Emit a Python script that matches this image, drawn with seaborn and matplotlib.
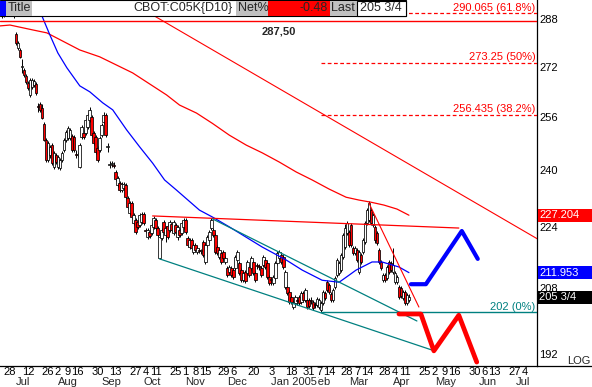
import numpy as np
import pandas as pd
import matplotlib
matplotlib.use('Agg')
import matplotlib.pyplot as plt
import matplotlib.transforms as mtransforms
from matplotlib.patches import Rectangle
from matplotlib.ticker import NullLocator, NullFormatter
import seaborn as sns

# ---------------- data ----------------
holidays = ['2004-07-05', '2004-09-06', '2004-11-25', '2004-12-24',
            '2005-01-17', '2005-02-21', '2005-03-25']
hist_dates = pd.bdate_range('2004-06-21', '2005-04-13')
hist_dates = hist_dates[~hist_dates.isin(pd.to_datetime(holidays))]
future_dates = pd.bdate_range('2005-04-14', '2005-07-15')
all_dates = hist_dates.append(future_dates)

opens = [291, 292, 290, 291, 291, 292, 291, 290, 282.9, 278.2,
         277.5, 271.9, 270.9, 268.9, 266.6, 262.8, 265.4, 266.0, 266.3, 259.3,
         260.0, 258.7, 253.7, 248.8, 242.9, 244.4, 247.3, 240.9, 244.4, 240.9,
         240.6, 242.9, 245.9, 248.8, 249.4, 249.4, 250.0, 249.7, 244.7, 244.4,
         240.9, 249.7, 251.0, 251.0, 252.8, 254.9, 255.9, 251.0, 249.7, 246.5,
         245.9, 250.4, 254.3, 256.5, 246.8, 241.4, 241.7, 241.4, 239.4, 235.6,
         236.2, 234.2, 234.8, 235.6, 232.0, 227.8, 230.6, 225.1, 225.9, 225.4,
         224.5, 225.4, 227.5, 223.2, 221.3, 222.7, 222.4, 224.0, 225.9, 223.7,
         215.7, 221.1, 225.4, 221.9, 224.3, 223.2, 224.8, 222.4, 224.5, 221.3,
         223.2, 222.4, 224.0, 225.9, 221.1, 218.6, 220.5, 217.3, 219.2, 217.3,
         217.8, 217.5, 220.0, 214.7, 219.2, 220.5, 223.7, 223.2, 221.9, 218.6,
         216.0, 217.0, 217.3, 214.7, 213.1, 212.1, 213.1, 212.6, 213.1, 215.2,
         214.4, 212.6, 210.0, 212.1, 211.8, 213.4, 213.1, 214.7, 211.8, 213.9,
         213.6, 213.1, 213.9, 215.2, 214.4, 210.8, 210.3, 209.2, 210.5, 214.4,
         215.7, 216.5, 216.0, 208.2, 208.2, 207.0, 205.7, 203.3, 204.3, 205.0,
         205.7, 204.5, 206.7, 205.0, 205.0, 205.0, 205.0, 204.5, 204.0, 203.8,
         203.3, 202.6, 204.3, 206.7, 209.5, 208.7, 206.5, 205.0, 208.2, 211.3,
         211.8, 212.6, 216.0, 218.6, 222.4, 222.7, 224.5, 218.4, 217.0, 217.8,
         212.1, 216.5, 217.3, 220.0, 225.1, 225.9, 228.6, 224.5, 224.0, 222.4,
         217.8, 214.7, 210.0, 211.3, 210.5, 214.7, 214.4, 212.1, 209.5, 209.5,
         208.2, 208.0, 205.5, 207.0, 204.3, 205.0]
highs = [293, 293, 292, 292, 294, 294, 292, 291, 283.6, 280.6,
         278.2, 274.5, 271.6, 269.6, 267.3, 268.3, 268.3, 267.9, 267.0, 260.3,
         260.6, 260.0, 254.3, 249.4, 248.5, 247.3, 247.9, 245.6, 245.0, 244.4,
         243.5, 245.6, 249.4, 251.9, 253.1, 252.5, 250.7, 250.4, 245.9, 245.3,
         247.9, 253.4, 251.9, 255.5, 257.1, 259.0, 256.5, 251.6, 250.4, 247.1,
         250.0, 254.0, 257.5, 257.1, 247.9, 242.6, 242.6, 242.3, 240.0, 238.3,
         236.8, 236.5, 236.5, 236.2, 232.5, 231.1, 231.1, 227.8, 226.4, 225.9,
         227.8, 228.1, 228.1, 223.7, 223.7, 223.2, 225.1, 227.0, 226.4, 224.3,
         222.7, 223.7, 225.9, 224.3, 224.8, 225.9, 225.4, 225.9, 225.1, 224.5,
         223.7, 225.6, 226.4, 226.4, 221.6, 221.1, 221.1, 219.7, 219.7, 218.9,
         218.4, 218.1, 220.5, 219.7, 221.9, 223.2, 226.4, 223.7, 222.4, 219.2,
         218.4, 217.5, 217.8, 216.2, 213.6, 213.9, 213.6, 213.1, 216.5, 217.8,
         214.9, 213.1, 212.3, 212.6, 215.2, 213.9, 216.2, 215.2, 212.3, 214.4,
         214.2, 213.6, 216.5, 215.7, 214.9, 211.3, 210.8, 211.3, 214.9, 217.5,
         217.8, 217.0, 216.5, 212.6, 208.7, 207.5, 206.2, 205.0, 206.2, 205.7,
         206.2, 207.2, 207.2, 208.0, 205.5, 205.5, 205.7, 205.0, 204.5, 205.7,
         205.5, 204.8, 207.5, 207.2, 210.0, 209.2, 207.0, 208.0, 211.0, 215.7,
         214.9, 217.0, 222.4, 224.8, 225.6, 223.2, 225.1, 218.9, 218.9, 218.4,
         217.8, 217.0, 221.1, 225.6, 229.2, 231.1, 229.2, 227.8, 224.5, 222.9,
         218.4, 215.2, 211.8, 211.8, 213.9, 215.2, 214.9, 218.4, 212.3, 211.3,
         208.7, 208.5, 207.5, 207.5, 206.7, 206.5]
lows = [290, 288.6, 288.8, 289, 290, 290, 289.8, 288.4, 279.2, 277.5,
        274.9, 269.9, 268.6, 266.3, 264.4, 262.2, 264.7, 265.4, 262.8, 257.5,
        257.5, 255.2, 248.5, 242.3, 242.3, 243.5, 241.4, 240.3, 241.7, 240.3,
        240.0, 242.3, 245.3, 248.2, 248.8, 248.8, 245.3, 245.3, 243.5, 243.8,
        240.6, 249.1, 249.1, 250.4, 252.2, 254.3, 249.7, 247.3, 244.7, 242.3,
        245.3, 249.7, 253.7, 249.7, 245.3, 240.6, 240.9, 240.6, 236.8, 235.1,
        233.6, 233.6, 234.2, 231.7, 228.9, 227.2, 226.2, 224.5, 222.1, 223.5,
        224.0, 224.8, 224.5, 222.4, 220.8, 221.1, 221.9, 223.5, 223.2, 221.3,
        215.5, 220.5, 222.1, 220.0, 220.8, 222.7, 222.7, 221.9, 222.1, 220.5,
        221.3, 221.9, 223.5, 222.1, 218.6, 218.1, 217.8, 216.8, 217.3, 216.8,
        217.0, 216.8, 216.0, 214.2, 218.6, 220.0, 223.2, 221.3, 216.8, 216.5,
        215.5, 214.2, 215.2, 214.2, 210.8, 211.6, 210.8, 210.3, 212.6, 214.7,
        211.3, 209.5, 209.5, 209.2, 211.3, 210.8, 212.6, 211.3, 209.5, 212.8,
        212.6, 210.8, 213.4, 212.8, 210.3, 208.7, 208.7, 208.7, 210.0, 213.9,
        215.2, 214.2, 212.8, 207.7, 206.2, 204.0, 204.0, 202.8, 203.8, 203.8,
        203.8, 204.0, 204.5, 204.5, 202.8, 203.1, 204.0, 202.6, 203.1, 203.3,
        202.8, 202.1, 203.8, 205.0, 207.0, 206.5, 204.5, 204.5, 207.7, 210.8,
        211.3, 212.1, 215.5, 218.1, 221.9, 218.6, 218.6, 216.5, 216.5, 214.7,
        211.6, 214.2, 216.8, 219.4, 224.5, 225.4, 224.5, 224.0, 219.7, 219.2,
        214.2, 212.6, 209.5, 209.5, 210.0, 211.6, 212.1, 211.6, 209.0, 209.0,
        205.2, 205.5, 205.0, 203.8, 203.8, 204.5]
closes = [292, 290, 291, 290.5, 292, 291, 290, 289.5, 279.9, 279.9,
          275.2, 272.2, 269.3, 267.0, 265.0, 267.6, 267.6, 267.3, 263.4, 259.0,
          258.1, 255.5, 248.8, 242.9, 247.9, 246.8, 242.0, 245.0, 242.3, 243.8,
          242.9, 245.0, 248.8, 251.3, 252.5, 251.9, 245.9, 245.9, 244.4, 244.7,
          247.3, 252.8, 249.7, 254.9, 256.5, 258.1, 250.4, 247.9, 245.3, 242.9,
          249.4, 253.4, 256.5, 250.4, 247.1, 241.7, 242.0, 241.2, 237.4, 237.7,
          234.2, 235.9, 235.9, 232.2, 229.4, 230.6, 226.7, 227.2, 222.7, 224.0,
          227.2, 227.5, 225.1, 222.9, 223.2, 221.6, 224.5, 226.4, 223.7, 221.9,
          221.3, 223.2, 222.7, 223.7, 221.3, 225.4, 223.2, 225.4, 222.7, 224.0,
          221.9, 225.1, 225.9, 222.7, 219.2, 220.5, 218.4, 219.2, 217.8, 218.4,
          217.5, 217.8, 216.5, 219.2, 221.3, 222.7, 225.9, 221.9, 217.3, 217.0,
          217.8, 214.7, 215.7, 215.7, 211.3, 213.4, 211.3, 210.8, 216.0, 217.3,
          211.8, 210.0, 211.8, 209.7, 214.7, 211.3, 215.7, 211.8, 210.0, 213.6,
          213.4, 211.3, 216.0, 213.4, 210.8, 209.2, 210.0, 210.8, 214.4, 217.0,
          217.3, 214.7, 213.4, 212.1, 206.7, 204.5, 204.5, 204.5, 205.7, 204.8,
          204.3, 206.7, 205.0, 207.5, 203.3, 203.6, 204.8, 203.1, 203.8, 205.2,
          205.0, 204.3, 207.0, 205.5, 207.5, 207.0, 205.0, 207.5, 210.5, 215.2,
          214.4, 216.5, 221.9, 223.7, 225.1, 219.2, 219.2, 217.0, 218.4, 215.2,
          217.3, 214.7, 220.5, 225.1, 228.6, 230.6, 225.1, 227.2, 220.5, 219.7,
          214.7, 213.1, 211.3, 210.0, 213.4, 212.1, 212.6, 213.9, 211.8, 210.8,
          205.7, 206.0, 207.0, 204.3, 206.2, 205.75]

# moving averages (bar index, price)
red_ma_x = [0, 5, 16.5, 23.5, 40, 50, 66.5, 83.5, 90, 98.5, 106.5, 115, 123.5,
            131.5, 140, 148.5, 156.5, 165, 173.5, 180, 186, 192.5, 199, 205]
red_ma_y = [285.7, 286.0, 284.3, 283.3, 277.5, 275.2, 269.9, 262.8, 259.6, 257.1,
            253.9, 250.3, 247.3, 245.0, 242.3, 239.4, 237.1, 234.5, 232.2, 231.4,
            230.8, 230.0, 228.9, 227.2]
blue_ma_x = [19, 21, 25, 29, 33.5, 40, 45, 51.5, 56.5, 63.5, 70, 76.5, 82.5, 88.5,
             100, 106.5, 115, 131.5, 143.5, 151.5, 161.5, 170, 175, 178.5, 186.5,
             191.5, 200, 205]
blue_ma_y = [292.5, 289.2, 282.6, 276.5, 271.6, 265.7, 263.8, 260.3, 258.1, 251.9,
             246.8, 242.0, 237.1, 234.2, 228.6, 226.7, 224.0, 218.6, 215.2, 212.6,
             210.0, 209.5, 211.3, 212.6, 214.7, 214.7, 213.4, 211.95]

# trend lines (bar index pairs, price pairs)
long_red_x, long_red_y = [60, 270], [296.3, 220.6]
resist_x, resist_y = [76.5, 230], [227.0, 223.7]
steep_x, steep_y = [185, 210], [230.5, 203.3]
teal_up_x, teal_up_y = [106.5, 209], [226.2, 199.9]
teal_low_x, teal_low_y = [80, 216.5], [215.5, 193.0]

# projections
proj_blue_x = [206, 213.5, 231.5, 239.5]
proj_blue_y = [209.0, 209.0, 222.9, 215.5]
proj_red_x = [200, 211, 217.5, 230, 239]
proj_red_y = [201.6, 201.6, 192.8, 201.3, 190.2]

# fibonacci levels
fib_start = 161
top_level = 287.5
fib_vals = [290.065, 273.25, 256.435]
fib_labels = ['290.065 (61.8%)', '273.25 (50%)', '256.435 (38.2%)']
zero_val, zero_label = 202, '202 (0%)'

# axis
ytick_vals = [192, 208, 224, 240, 256, 272, 288]
day_tick_dates = ['2004-06-28', '2004-07-12', '2004-07-26', '2004-08-02', '2004-08-09',
                  '2004-08-16', '2004-08-30', '2004-09-13', '2004-09-27', '2004-10-04',
                  '2004-10-11', '2004-10-25', '2004-11-01', '2004-11-08', '2004-11-15',
                  '2004-11-29', '2004-12-06', '2004-12-20', '2005-01-03', '2005-01-18',
                  '2005-01-31', '2005-02-07', '2005-02-14', '2005-02-28', '2005-03-07',
                  '2005-03-14', '2005-03-28', '2005-04-04', '2005-04-11', '2005-04-25',
                  '2005-05-02', '2005-05-09', '2005-05-16', '2005-05-30', '2005-06-06',
                  '2005-06-13', '2005-06-27', '2005-07-04']
month_names = ['Jul', 'Aug', 'Sep', 'Oct', 'Nov', 'Dec', 'Feb', 'Jan 2005', 'Mar',
               'Apr', 'May', 'Jun', 'Jul']
month_starts = ['2004-07-01', '2004-08-01', '2004-09-01', '2004-10-01', '2004-11-01',
                '2004-12-01', '2005-02-01', '2005-01-01', '2005-03-01', '2005-04-01',
                '2005-05-01', '2005-06-01', '2005-07-01']

last_vals = [227.204, 211.953, 205.75]
last_labels = ['227.204', '211.953', '205 3/4']
last_colors = ['#FF0000', '#0000FF', '#000000']

# ---------------- plot ----------------
sns.set_theme(style='white')
plt.rcParams['font.family'] = ['Liberation Sans', 'DejaVu Sans']

W, H = 592, 387
fig = plt.figure(figsize=(W / 100, H / 100), dpi=100)
fig.patch.set_facecolor('white')
ax = fig.add_axes([0, 21 / H, 537 / W, 366 / H])
ax.set_facecolor('white')
ax.set_yscale('log')

RED, BLUE, TEAL = '#FF0000', '#0000FF', '#008080'

idx = np.arange(len(closes))
o, h, l, c = map(np.array, (opens, highs, lows, closes))
up = c >= o
ax.vlines(idx, l, h, color='black', lw=0.7, zorder=2)
ax.bar(idx, np.maximum(np.abs(c - o), 0.25), bottom=np.minimum(o, c), width=1.3,
       color=np.where(up, 'white', RED), edgecolor='black', linewidth=0.55, zorder=3)

sns.lineplot(x=red_ma_x, y=red_ma_y, color=RED, lw=0.9, ax=ax, zorder=4)
sns.lineplot(x=blue_ma_x, y=blue_ma_y, color=BLUE, lw=0.9, ax=ax, zorder=4)

xmax = 269.2
ax.plot([0, xmax], [top_level, top_level], color=RED, lw=1.0, zorder=4)
ax.plot(long_red_x, long_red_y, color=RED, lw=0.8, zorder=4)
ax.plot(resist_x, resist_y, color=RED, lw=0.9, zorder=4)
ax.plot(steep_x, steep_y, color=RED, lw=0.8, zorder=4)
ax.plot(teal_up_x, teal_up_y, color=TEAL, lw=0.9, zorder=4)
ax.plot(teal_low_x, teal_low_y, color=TEAL, lw=0.9, zorder=4)
ax.plot([fib_start, xmax], [zero_val, zero_val], color=TEAL, lw=1.0, zorder=4)
for v in fib_vals:
    ax.plot([fib_start, xmax], [v, v], color=RED, lw=0.9, ls=(0, (3, 2)), zorder=4)

sns.lineplot(x=proj_blue_x, y=proj_blue_y, sort=False, color=BLUE, lw=3.0, ax=ax, zorder=5)
sns.lineplot(x=proj_red_x, y=proj_red_y, sort=False, color=RED, lw=3.4, ax=ax, zorder=5)

ax.set_xlim(0, xmax)
ax.set_ylim(189.3, 294.8)
ax.set_xlabel('')
ax.set_ylabel('')

blend = mtransforms.blended_transform_factory(ax.transAxes, ax.transData)
for v, lab in zip(fib_vals, fib_labels):
    ax.annotate(lab, xy=(1.0, v), xycoords=blend, xytext=(-1.2, 2.0),
                textcoords='offset points', ha='right', va='baseline',
                color=RED, fontsize=8, zorder=6)
ax.annotate(zero_label, xy=(1.0, zero_val), xycoords=blend, xytext=(-1.2, 2.0),
            textcoords='offset points', ha='right', va='baseline',
            color=TEAL, fontsize=8, zorder=6)
ax.annotate('287,50', xy=(148.5, top_level), xytext=(0, -4), textcoords='offset points',
            ha='right', va='top', fontsize=8, fontweight='bold', zorder=6)

# y axis on right
ax.yaxis.tick_right()
ax.set_yticks(ytick_vals)
ax.set_yticklabels([str(v) for v in ytick_vals])
ax.yaxis.set_minor_locator(NullLocator())
ax.yaxis.set_minor_formatter(NullFormatter())
ax.tick_params(axis='y', length=0, pad=1.5, labelsize=8, colors='black')

# x axis
tick_dates = pd.to_datetime(day_tick_dates)
tick_pos = [all_dates.get_loc(d) for d in tick_dates]
ax.set_xticks(tick_pos)
ax.set_xticklabels([str(d.day) for d in tick_dates])
ax.xaxis.set_minor_locator(NullLocator())
ax.tick_params(axis='x', length=0, pad=0.8, labelsize=8, colors='black')

xblend = mtransforms.blended_transform_factory(ax.transData, ax.transAxes)
for k, (name, start) in enumerate(zip(month_names, month_starts)):
    pos = all_dates.searchsorted(pd.Timestamp(start))
    last = k == len(month_names) - 1
    kw = {}
    if name.startswith('Jan'):
        kw['bbox'] = dict(fc='white', ec='none', pad=0.3)
    ax.annotate(name, xy=(pos, 0), xycoords=xblend, xytext=(0, -8.2),
                textcoords='offset points', ha='center' if last else 'left',
                va='top', fontsize=8, annotation_clip=False, zorder=7, **kw)

for s in ['top', 'left']:
    ax.spines[s].set_visible(False)
for s in ['right', 'bottom']:
    ax.spines[s].set_color('black')
    ax.spines[s].set_linewidth(0.9)
ax.grid(False)

# ---------------- overlay (header, value boxes) ----------------
ov = fig.add_axes([0, 0, 1, 1], zorder=10)
ov.set_xlim(0, W)
ov.set_ylim(H, 0)
ov.axis('off')
ov.patch.set_alpha(0)

ov.add_patch(Rectangle((0, 0), 406, 16, fc='white', ec='black', lw=0.8))
ov.add_patch(Rectangle((0, 0.5), 6, 15, fc=BLUE, ec='none'))
ov.add_patch(Rectangle((6, 1), 26, 14.5, fc='#C0C0C0', ec='none'))
ov.text(8, 8.3, 'Title', va='center', ha='left', fontsize=9)
ov.text(233, 8.3, 'CBOT:C05K{D10}', va='center', ha='right', fontsize=9)
ov.add_patch(Rectangle((236, 1), 32, 14.5, fc='#C0C0C0', ec='none'))
ov.text(238, 8.3, 'Net%', va='center', ha='left', fontsize=9)
ov.add_patch(Rectangle((268, 1), 62, 14.5, fc=RED, ec='none'))
ov.text(328, 8.3, '-0.48', va='center', ha='right', fontsize=9)
ov.add_patch(Rectangle((330, 1), 27, 14.5, fc='#C0C0C0', ec='none'))
ov.text(331.5, 8.3, 'Last', va='center', ha='left', fontsize=9)
ov.add_patch(Rectangle((357, 0.5), 48.5, 15, fc='white', ec='black', lw=0.8))
ov.text(381, 8.3, '205 3/4', va='center', ha='center', fontsize=9)

for val, lab, col in zip(last_vals, last_labels, last_colors):
    yp = H - ax.transData.transform((0, val))[1]
    ov.add_patch(Rectangle((537.5, yp - 6.5), W - 537.5, 13, fc=col, ec='none'))
    ov.text(539, yp, lab, color='white', va='center', ha='left', fontsize=8)

ov.plot([537, W], [366, 366], color='black', lw=0.9)
ov.text(590, 361, 'LOG', ha='right', va='center', fontsize=8)

fig.savefig('out.png', dpi=100, facecolor='white')
